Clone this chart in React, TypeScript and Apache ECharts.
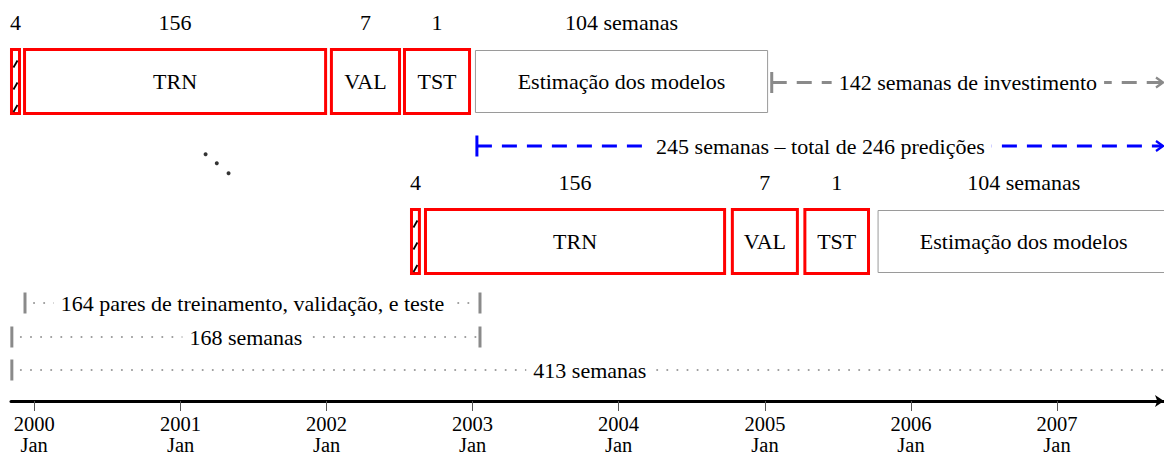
import React, { useEffect, useRef } from 'react';
import * as echarts from 'echarts';

const WEEK_MS = 7 * 24 * 3600 * 1000;
const START = Date.UTC(1999, 10, 4); // week 0 = left end of the timeline axis
const AXIS_END_WEEK = 411.8;

// Year ticks (January of each year)
const yearTicks = [2000, 2001, 2002, 2003, 2004, 2005, 2006, 2007];

// Blocks of one training / validation / test window (as drawn, in weeks from START)
const blockNames = ['', 'TRN', 'VAL', 'TST', 'Estimação dos modelos'];
const blockKinds = ['hatch', 'red', 'red', 'red', 'gray'];
const blockSizes = ['4', '156', '7', '1', '104 semanas'];
const firstStart = [-0.36, 4.3, 113.9, 140.0, 165.7];
const firstEnd = [3.57, 112.9, 139.3, 164.3, 270.4];
const lastStart = [142.5, 147.5, 257.1, 283.0, 309.5];
const lastEnd = [146.4, 255.4, 281.4, 306.8, 413.9];
const rowCenters = [81.5, 241.5];

// Spans (brackets / arrows)
const spanLabels = [
  '142 semanas de investimento',
  '245 semanas – total de 246 predições',
  '164 pares de treinamento, validação, e teste',
  '168 semanas',
  '413 semanas',
];
const spanKinds = ['grayArrow', 'blueArrow', 'dotted', 'dotted', 'dotted'];
const spanStart = [271.7, 166.4, 5.0, 0.3, 0.3];
const spanEnd = [411.8, 411.8, 167.5, 167.5, 413.2];
const spanRows = [82.5, 146, 303, 337, 370];

// "diagonal dots" between the first and the last window
const dotWeeks = [69.5, 73.5, 77.7];
const dotRows = [154.3, 163.3, 173.3];

const FONT_FAMILY = 'Liberation Serif';
const FONT_SIZE = 22;

const weekOf = (year: number) => (Date.UTC(year, 0, 1) - START) / WEEK_MS;

export default function App() {
  const ref = useRef<HTMLDivElement>(null);

  useEffect(() => {
    if (!ref.current) return;
    const chart = echarts.init(ref.current, undefined, { renderer: 'svg' });

    const blockData: number[][] = [];
    [firstStart, lastStart].forEach((starts, r) => {
      const ends = r === 0 ? firstEnd : lastEnd;
      starts.forEach((s, i) => blockData.push([s, ends[i], rowCenters[r], i]));
    });

    const spanData = spanStart.map((s, i) => [s, spanEnd[i], spanRows[i], i]);
    const dotData = dotWeeks.map((w, i) => [w, dotRows[i]]);
    const tickWeeks = yearTicks.map(weekOf);

    const textStyle = (text: string, x: number, y: number, extra: any = {}) => ({
      type: 'text',
      style: {
        x, y, text,
        font: `${FONT_SIZE}px ${FONT_FAMILY}`,
        fontFamily: FONT_FAMILY,
        fontSize: FONT_SIZE,
        fill: '#000',
        align: 'center',
        verticalAlign: 'middle',
        ...extra,
      },
    });

    const option: any = {
      animation: false,
      textStyle: { fontFamily: FONT_FAMILY },
      grid: { left: 11, right: 0, top: 0, bottom: 54, outerBoundsMode: 'none', containLabel: false },
      xAxis: {
        type: 'value',
        min: 0,
        max: AXIS_END_WEEK,
        axisLine: {
          show: true,
          onZero: false,
          lineStyle: { color: '#000', width: 3 },
          symbol: ['none', 'arrow'],
          symbolSize: [9, 9],
        },
        axisTick: {
          show: true,
          length: 10,
          lineStyle: { color: '#555', width: 1 },
          customValues: tickWeeks,
        },
        axisLabel: {
          customValues: tickWeeks,
          formatter: (v: number) => `${new Date(START + v * WEEK_MS + 3 * 86400000).getUTCFullYear()}\nJan`,
          fontFamily: FONT_FAMILY,
          fontSize: 20.5,
          lineHeight: 21,
          color: '#000',
          margin: 12,
        },
        splitLine: { show: false },
      },
      yAxis: { type: 'value', inverse: true, min: 0, max: 401, show: false },
      series: [
        {
          type: 'custom',
          clip: false,
          data: blockData,
          encode: { x: [0, 1], y: 2 },
          renderItem: (params: any, api: any) => {
            const idx = api.value(3) as number;
            const kind = blockKinds[idx];
            const a = api.coord([api.value(0), api.value(2)]);
            const b = api.coord([api.value(1), api.value(2)]);
            const cy = a[1];
            const isRed = kind !== 'gray';
            const h = isRed ? 67 : 63;
            const lw = isRed ? 3 : 1;
            const top = cy - h / 2;
            const children: any[] = [
              {
                type: 'rect',
                shape: { x: a[0] + lw / 2, y: top + lw / 2, width: b[0] - a[0] - lw, height: h - lw },
                style: { fill: '#fff', stroke: isRed ? '#ff0000' : '#9a9a9a', lineWidth: lw },
              },
            ];
            if (kind === 'hatch') {
              [19.5, 41.5, 64].forEach((off) => {
                children.push({
                  type: 'line',
                  shape: { x1: a[0] + 3.5, y1: top + off, x2: b[0] - 3.5, y2: top + off - 7 },
                  style: { stroke: '#000', lineWidth: 1.8 },
                });
              });
            }
            const cx = (a[0] + b[0]) / 2;
            if (blockNames[idx]) children.push(textStyle(blockNames[idx], cx, cy));
            children.push(textStyle(blockSizes[idx], cx, cy - 59));
            return { type: 'group', children };
          },
        },
        {
          type: 'custom',
          clip: false,
          data: spanData,
          encode: { x: [0, 1], y: 2 },
          renderItem: (params: any, api: any) => {
            const idx = api.value(3) as number;
            const kind = spanKinds[idx];
            const a = api.coord([api.value(0), api.value(2)]);
            const b = api.coord([api.value(1), api.value(2)]);
            const y = a[1];
            const children: any[] = [];
            if (kind === 'dotted') {
              children.push({
                type: 'line',
                shape: { x1: a[0] + 9, y1: y, x2: b[0] - 4, y2: y },
                style: { stroke: '#9a9a9a', lineWidth: 2, lineDash: [0.1, 10], lineCap: 'round' },
              });
              [a[0], b[0]].forEach((x) => {
                children.push({
                  type: 'line',
                  shape: { x1: x, y1: y - 10.5, x2: x, y2: y + 10.5 },
                  style: { stroke: '#8a8a8a', lineWidth: 3 },
                });
              });
            } else {
              const color = kind === 'blueArrow' ? '#0000ff' : '#8a8a8a';
              children.push({
                type: 'line',
                shape: { x1: a[0], y1: y, x2: b[0] - 2, y2: y },
                style: { stroke: color, lineWidth: 3, lineDash: [15, 10] },
              });
              children.push({
                type: 'line',
                shape: { x1: a[0], y1: y - 10.5, x2: a[0], y2: y + 10.5 },
                style: { stroke: color, lineWidth: 3 },
              });
              children.push({
                type: 'polyline',
                shape: { points: [[b[0] - 8, y - 5], [b[0] - 1, y], [b[0] - 8, y + 5]] },
                style: { stroke: color, lineWidth: 2.2, fill: 'none' },
              });
            }
            children.push(
              textStyle(spanLabels[idx], (a[0] + b[0]) / 2, y, { backgroundColor: '#fff', padding: [2, 7] })
            );
            return { type: 'group', children };
          },
        },
        {
          type: 'scatter',
          data: dotData,
          symbol: 'circle',
          symbolSize: 4,
          itemStyle: { color: '#000' },
          silent: true,
        },
      ],
    };

    chart.setOption(option);
    return () => chart.dispose();
  }, []);

  return (
    <div
      ref={ref}
      style={{ position: 'fixed', left: 0, top: 0, width: 1164, height: 455, background: '#fff' }}
    />
  );
}
